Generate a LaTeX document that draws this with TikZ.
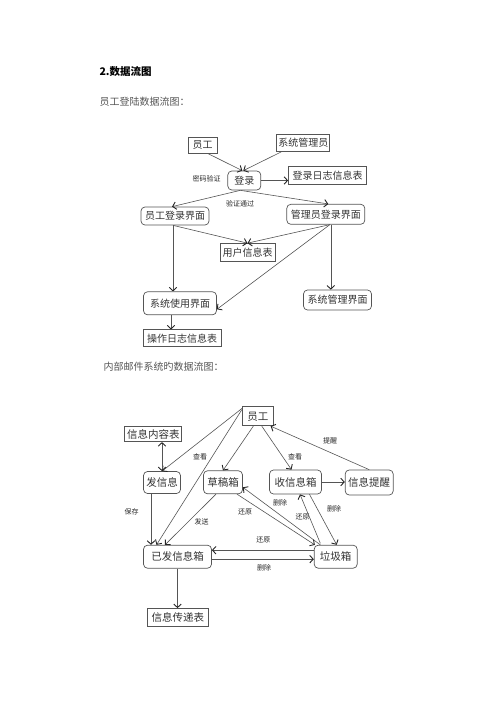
\documentclass[tikz,border=0pt]{standalone}
\usepackage{fontspec}
\setmainfont{Noto Sans CJK SC}
\usetikzlibrary{arrows.meta,positioning}
\definecolor{xian}{HTML}{555555}
\definecolor{zi}{HTML}{333333}
\definecolor{biaoti}{HTML}{555555}

\begin{document}
\begin{tikzpicture}[x=1pt, y=-1pt,
  >={Straight Barb[length=3.5pt,width=7.5pt,line width=0.9pt,color=black!85]},
  font=\fontsize{10}{12}\selectfont, text=zi,
  kuang/.style={draw=xian, line width=0.7pt, inner sep=1pt, align=center},
  yuan/.style={kuang, rounded corners=4pt},
  da/.style={font=\fontsize{10.5}{12}\selectfont},
  lbl/.style={font=\fontsize{7}{8}\selectfont, text=black!85, inner sep=0pt},
  xn/.style={->, draw=xian, line width=0.6pt}]
  \useasboundingbox (0,0) rectangle (500,707);
  \node[anchor=west, font=\fontsize{10.5}{12}\selectfont\bfseries, text=black] (t1) at (96,72) {2.数据流图};
  \node[anchor=west, text=biaoti] (t2) at (96,102) {员工登陆数据流图：};
  \node[kuang, minimum width=29pt, minimum height=16pt] (yg) at (202.5,145) {员工};
  \node[kuang, minimum width=53pt, minimum height=17pt] (gly) at (303.3,143) {系统管理员};
  \node[yuan, minimum width=33pt, minimum height=19pt] (dl) at (244.3,180.5) {登录};
  \node[kuang, minimum width=78pt, minimum height=18pt] (rzb) at (327.5,175.5) {登录日志信息表};
  \node[yuan, minimum width=68pt, minimum height=18pt] (ygjm) at (175,216) {员工登录界面};
  \node[yuan, minimum width=78pt, minimum height=20pt] (gljm) at (325.8,214.3) {管理员登录界面};
  \node[kuang, minimum width=55pt, minimum height=18pt] (yhb) at (247.5,252.5) {用户信息表};
  \node[yuan, minimum width=73pt, minimum height=23pt] (sysjm) at (180,303.3) {系统使用界面};
  \node[yuan, minimum width=68pt, minimum height=20pt] (glsjm) at (337.5,300) {系统管理界面};
  \node[kuang, minimum width=78pt, minimum height=17pt] (czb) at (182,338.3) {操作日志信息表};
  \node[lbl] (mmyz) at (206.7,178.3) {密码验证};
  \node[lbl] (yztg) at (240,204) {验证通过};
  \draw[xn] ([xshift=5pt]yg.south) -- ([xshift=-2pt]dl.north);
  \draw[xn] ([xshift=-22pt]gly.south) -- ([xshift=-1pt]dl.north);
  \draw[xn] (dl.east) -- (dl.east -| rzb.west);
  \draw[xn] ([xshift=-4pt]dl.south) -- ([xshift=-3pt]ygjm.north);
  \draw[xn] ([xshift=-4pt]dl.south) -- ([xshift=2.5pt]gljm.north);
  \draw[xn] ([xshift=-2pt]ygjm.south) -- ([xshift=-2pt]ygjm.south |- sysjm.north);
  \draw[xn] ([xshift=-2pt]ygjm.south) -- (yhb.north);
  \draw[xn] ([xshift=4pt]gljm.south) -- (yhb.north);
  \draw[xn] ([xshift=4pt]gljm.south) -- ([yshift=-6pt]sysjm.east);
  \draw[xn] ([xshift=5pt]gljm.south) -- ([xshift=5pt]gljm.south |- glsjm.north);
  \draw[xn] ([xshift=-9pt]sysjm.south) -- ([xshift=-9pt]sysjm.south |- czb.north);

  \node[anchor=west, text=biaoti] (t3) at (100,367) {内部邮件系统旳数据流图：};
  \node[kuang, da, minimum width=31pt, minimum height=19pt] (yg2) at (257.8,416.3) {员工};
  \node[kuang, da, minimum width=57pt, minimum height=15pt] (nrb) at (153.3,434.2) {信息内容表};
  \node[yuan, da, minimum width=37pt, minimum height=22pt] (fxx) at (162,482.5) {发信息};
  \node[yuan, da, minimum width=39pt, minimum height=23pt] (cgx) at (223,482.3) {草稿箱};
  \node[yuan, da, minimum width=52pt, minimum height=24pt] (sxx) at (295.5,482) {收信息箱};
  \node[yuan, da, minimum width=48pt, minimum height=25pt] (txx) at (369.2,482.5) {信息提醒};
  \node[yuan, da, minimum width=68pt, minimum height=23pt] (yfx) at (177.5,556.7) {已发信息箱};
  \node[yuan, da, minimum width=43pt, minimum height=23pt] (ljx) at (335.7,556.7) {垃圾箱};
  \node[kuang, da, minimum width=61pt, minimum height=18pt] (csb) at (177.8,617.5) {信息传递表};
  \node[lbl] (ck1) at (200,456.7) {查看};
  \node[lbl] (ck2) at (295,456.7) {查看};
  \node[lbl] (tx) at (330,440.7) {提醒};
  \node[lbl] (bc) at (131.7,511.7) {保存};
  \node[lbl] (fs) at (201.7,521.7) {发送};
  \node[lbl] (hy1) at (245,511.7) {还原};
  \node[lbl] (sc1) at (280,503.3) {删除};
  \node[lbl] (hy2) at (302.7,516.7) {还原};
  \node[lbl] (sc2) at (334,509.3) {删除};
  \node[lbl] (hy3) at (263.3,540) {还原};
  \node[lbl] (sc3) at (264,568.3) {删除};
  \draw[xn] ([yshift=-2pt]yg2.north west) -- (fxx.north);
  \draw[xn] ([yshift=-3pt]yg2.north west) -- ([xshift=-21pt]yfx.north);
  \draw[xn] ([xshift=-4.5pt]yg2.south) -- (cgx.north);
  \draw[xn] ([xshift=4pt]yg2.south) -- ([xshift=-4pt]sxx.north);
  \draw[xn] (txx.north) -- ([xshift=-3pt]yg2.south east);
  \draw[xn, <->] (nrb.south -| fxx.north) -- (fxx.north);
  \draw[xn] (sxx.east) -- (sxx.east -| txx.west);
  \draw[xn] ([xshift=-11pt]fxx.south) -- ([xshift=-11pt]fxx.south |- yfx.north);
  \draw[xn] ([xshift=-7pt]cgx.south) -- ([xshift=-12.5pt]yfx.north);
  \draw[xn] ([xshift=14pt]cgx.south) -- ([xshift=1pt]ljx.north west);
  \draw[xn] ([xshift=6.5pt]ljx.north west) -- ([yshift=-5pt]cgx.east);
  \draw[xn] ([xshift=6.5pt,yshift=1.5pt]ljx.north west) -- ([xshift=4.5pt]sxx.south);
  \draw[xn] ([xshift=14pt]sxx.south) -- ([xshift=1pt]ljx.north);
  \draw[xn] ([yshift=6.5pt]ljx.west) -- ([yshift=6.5pt]ljx.west -| yfx.east);
  \draw[xn] ([yshift=-2.5pt]yfx.east) -- ([yshift=-2.5pt]yfx.east -| ljx.west);
  \draw[xn] (yfx.south) -- (yfx.south |- csb.north);
\end{tikzpicture}
\end{document}
